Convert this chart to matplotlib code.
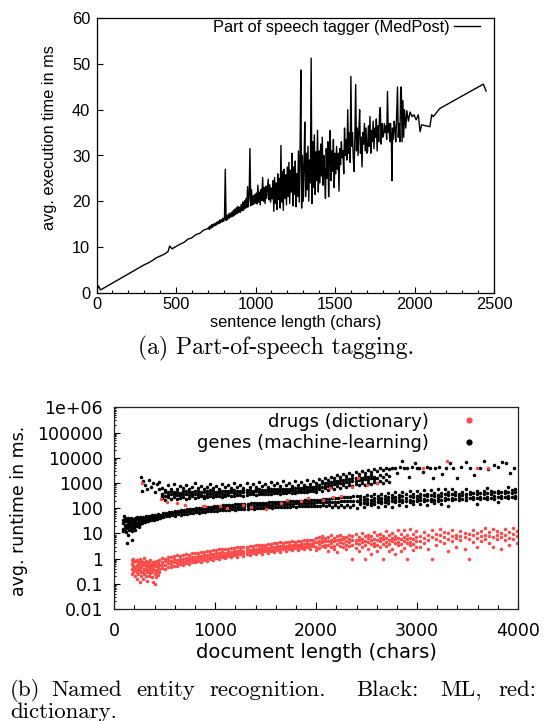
import matplotlib
matplotlib.use("Agg")
import matplotlib.pyplot as plt
from matplotlib.ticker import MultipleLocator, FixedLocator, NullFormatter
from matplotlib.lines import Line2D

# ---------------- (a) Part-of-speech tagging ----------------
pos_label = "Part of speech tagger (MedPost)"
pos_x1 = [0, 12, 25, 50, 75, 100, 125, 150, 175, 200, 225, 250, 275, 300, 325, 350,
          375, 400, 425, 450, 460, 475, 500, 525, 550, 575, 600, 625, 650, 675, 700]
pos_y1 = [0.2, 1.5, 0.6, 1.1, 1.6, 2.1, 2.6, 3.1, 3.6, 4.1, 4.6, 5.1, 5.6, 6.1, 6.5, 7.0,
          7.6, 8.0, 8.4, 9.0, 10.2, 9.6, 10.1, 10.6, 11.0, 11.7, 12.0, 12.7, 13.0, 13.7, 14.0]
pos_x2 = [705, 710, 715, 720, 725, 730, 735, 740, 745, 750, 755, 760, 765, 770, 775, 780, 785, 790, 795, 800,
          805, 810, 815, 820, 825, 830, 835, 840, 845, 850, 855, 860, 865, 870, 875, 880, 885, 890, 895, 900,
          905, 910, 915, 920, 925, 930, 935, 940, 945, 950, 955, 960, 965, 970, 975, 980, 985, 990, 995, 1000,
          1005, 1010, 1015, 1020, 1025, 1030, 1035, 1040, 1045, 1050, 1055, 1060, 1065, 1070, 1075, 1080, 1085, 1090, 1095, 1100,
          1105, 1110, 1115, 1120, 1125, 1130, 1135, 1140, 1145, 1150, 1155, 1160, 1165, 1170, 1175, 1180, 1185, 1190, 1195, 1200,
          1205, 1210, 1215, 1220, 1225, 1230, 1235, 1240, 1245, 1250, 1255, 1260, 1265, 1270, 1275, 1280, 1285, 1290, 1295, 1300,
          1305, 1310, 1315, 1320, 1325, 1330, 1335, 1340, 1345, 1350, 1355, 1360, 1365, 1370, 1375, 1380, 1385, 1390, 1395, 1400,
          1405, 1410, 1415, 1420, 1425, 1430, 1435, 1440, 1445, 1450, 1455, 1460, 1465, 1470, 1475, 1480, 1485, 1490, 1495, 1500,
          1505, 1510, 1515, 1520, 1525, 1530, 1535, 1540, 1545, 1550, 1555, 1560, 1565, 1570, 1575, 1580, 1585, 1590, 1595, 1600,
          1605, 1610, 1615, 1620, 1625, 1630, 1635, 1640, 1645, 1650, 1655, 1660, 1665, 1670, 1675, 1680, 1685, 1690, 1695, 1700,
          1705, 1710, 1715, 1720, 1725, 1730, 1735, 1740, 1745, 1750, 1755, 1760, 1765, 1770, 1775, 1780, 1785, 1790, 1795, 1800]
pos_y2 = [14.3, 13.8, 14.6, 14.1, 14.9, 14.3, 15.0, 14.6, 15.2, 14.7, 15.4, 15.0, 15.6, 15.1, 15.9, 15.3, 16.0, 15.5, 16.3, 15.6,
          16.4, 27.0, 15.8, 16.9, 16.0, 17.2, 16.3, 17.4, 16.5, 17.6, 16.7, 18.0, 16.8, 18.3, 17.1, 18.6, 17.3, 18.9, 17.5, 18.7,
          17.6, 19.3, 17.9, 19.8, 18.0, 20.1, 18.4, 20.6, 18.6, 23.2, 18.8, 21.0, 31.5, 19.0, 22.5, 19.2, 21.2, 19.3, 21.5, 19.6,
          21.8, 19.4, 23.5, 19.8, 22.0, 19.2, 22.6, 20.2, 25.2, 20.0, 23.0, 19.5, 23.3, 20.6, 22.8, 24.8, 20.3, 23.6, 19.8, 22.9,
          20.5, 24.5, 17.8, 25.2, 19.5, 24.0, 18.2, 26.0, 20.4, 25.0, 18.5, 32.2, 19.8, 26.5, 18.0, 27.0, 20.6, 25.8, 19.2, 27.5,
          21.0, 28.5, 19.5, 26.8, 22.0, 30.5, 19.0, 27.5, 21.5, 28.8, 18.8, 26.0, 21.0, 31.0, 19.8, 29.5, 48.7, 18.5, 30.0, 20.0,
          27.5, 37.3, 21.0, 30.5, 22.5, 32.0, 20.0, 29.0, 24.0, 51.3, 19.5, 33.0, 23.0, 34.5, 21.5, 30.8, 24.5, 35.5, 22.0, 31.0,
          24.0, 32.5, 25.5, 34.0, 23.5, 30.0, 26.0, 20.6, 31.5, 25.0, 33.0, 21.0, 29.5, 35.5, 24.5, 31.0, 26.5, 33.5, 23.0, 30.5,
          26.0, 32.0, 27.0, 30.5, 22.2, 31.5, 28.0, 33.0, 29.5, 31.0, 26.0, 36.0, 30.0, 33.5, 29.0, 40.0, 30.5, 35.0, 28.5, 47.3,
          32.0, 35.0, 29.5, 26.5, 34.0, 45.5, 31.0, 36.0, 30.0, 35.5, 40.0, 30.5, 34.0, 27.5, 35.0, 32.5, 37.0, 31.0, 36.0, 30.5,
          31.0, 36.5, 32.0, 38.5, 30.5, 35.5, 33.0, 37.5, 31.5, 36.0, 34.0, 38.0, 31.0, 36.5, 33.0, 39.0, 40.5, 32.5, 37.0, 34.0]
pos_x3 = [1805, 1810, 1815, 1820, 1825, 1830, 1835, 1840, 1845, 1850, 1855, 1858, 1862, 1867, 1872, 1877,
          1882, 1887, 1893, 1898, 1903, 1908, 1913, 1917, 1922, 1927, 1932, 1937, 1945, 1952, 1962, 1972,
          1985, 1997, 2010, 2024, 2035, 2045, 2097, 2108, 2118, 2160, 2433, 2450]
pos_y3 = [34.5, 37.0, 35.0, 36.5, 33.5, 44.0, 35.0, 37.0, 33.0, 37.0, 32.5, 24.5, 36.0, 33.5, 37.5, 36.0,
          33.0, 38.0, 45.0, 34.0, 37.0, 33.0, 44.5, 45.0, 33.0, 42.0, 34.0, 40.0, 36.0, 39.8, 37.5, 39.5,
          38.5, 38.9, 37.8, 38.9, 35.2, 36.7, 36.3, 38.9, 38.5, 40.3, 45.6, 44.1]
pos_xticks = [0, 500, 1000, 1500, 2000, 2500]
pos_yticks = [0, 10, 20, 30, 40, 50, 60]

# ---------------- (b) Named entity recognition ----------------
ner_labels = ["drugs (dictionary)", "genes (machine-learning)"]
ner_xticks = [0, 1000, 2000, 3000, 4000]
ner_yticks = [0.01, 0.1, 1, 10, 100, 1000, 10000, 100000, 1000000]
ner_yticklabels = ["0.01", "0.1", "1", "10", "100", "1000", "10000", "100000", "1e+06"]

drugs_x = [175, 190, 205, 220, 235, 250, 265, 280, 295, 310, 325, 340, 355, 370, 385, 400, 415, 430, 445,
           470, 500, 530, 560, 590, 620, 650, 680, 710, 740, 770, 800, 830, 860, 890, 920, 950, 980,
           1010, 1040, 1070, 1100, 1130, 1160, 1190, 1220, 1250, 1280, 1310, 1340, 1370, 1400, 1430, 1460,
           1490, 1520, 1550, 1580, 1610, 1640, 1670, 1700, 1730, 1760, 1790, 1820, 1850, 1880, 1910, 1940, 1970,
           2000, 2030, 2060, 2090, 2120, 2150, 2180, 2210, 2240, 2270, 2300, 2330, 2360, 2390, 2420, 2450,
           2480, 2510, 2540, 2570, 2600, 2630, 2660, 2690, 2720, 2750, 2780, 2810, 2840, 2870, 2900, 2930, 2960, 2990,
           3030, 3070, 3110, 3150, 3190, 3230, 3270, 3310, 3350, 3390, 3430, 3470, 3510, 3550, 3590, 3630,
           3670, 3710, 3750, 3790, 3830, 3870, 3910, 3950, 3990]
drugs_y = [[0.4, 0.9, 0.25, 0.6], [0.3, 0.7, 0.5, 1.0], [0.2, 0.45, 0.8, 0.35], [0.55, 0.15, 0.3, 0.9],
           [0.4, 0.25, 0.7, 0.5], [0.12, 0.6, 0.35, 1.0], [0.45, 0.2, 0.8, 0.3], [0.3, 0.55, 0.15, 0.7],
           [0.6, 0.25, 0.4, 1.1], [0.2, 0.5, 0.35, 0.8], [0.45, 0.13, 0.65, 0.3], [0.35, 0.7, 0.2, 0.5],
           [0.55, 0.28, 0.9, 0.4], [0.18, 0.45, 0.6, 0.3], [0.4, 0.12, 0.75, 0.5], [0.25, 0.6, 0.35, 0.1],
           [0.5, 0.3, 0.8, 0.18], [0.35, 0.65, 0.45, 0.22], [0.55, 0.4, 0.9, 0.3],
           [0.42, 0.72, 1.05, 0.58], [0.55, 0.78, 0.98, 0.4], [0.48, 0.85, 1.2, 0.65], [0.6, 0.8, 1.15, 0.45],
           [0.52, 0.92, 1.28, 0.7], [0.66, 0.88, 1.35, 0.5], [0.6, 1.0, 1.3, 0.78], [0.72, 0.95, 1.45, 0.58],
           [0.65, 1.08, 1.5, 0.85], [0.8, 1.05, 1.42, 0.62], [0.74, 1.2, 1.62, 0.95], [0.88, 1.15, 1.7, 0.7],
           [0.82, 1.3, 1.6, 1.05], [0.95, 1.25, 1.85, 0.75], [0.9, 1.42, 1.78, 1.12], [1.05, 1.38, 2.0, 0.82],
           [0.98, 1.52, 1.95, 1.2], [1.12, 1.5, 2.15, 0.9],
           [1.08, 1.65, 2.1, 1.32], [1.22, 1.6, 2.35, 0.95], [1.15, 1.78, 2.3, 1.42], [1.32, 1.72, 2.5, 1.05],
           [1.25, 1.9, 2.45, 1.55], [1.45, 1.85, 2.65, 1.12], [1.38, 2.02, 2.6, 1.65], [1.55, 1.95, 2.82, 1.2],
           [1.48, 2.15, 2.78, 1.78], [1.66, 2.08, 3.0, 1.3], [1.58, 2.3, 2.95, 1.9], [1.78, 2.22, 3.2, 1.38],
           [1.68, 2.45, 3.15, 2.02], [1.9, 2.38, 3.4, 1.48], [1.8, 2.6, 3.35, 2.15], [2.02, 2.52, 3.6, 1.58],
           [1.92, 2.78, 3.55, 2.3], [2.15, 2.68, 3.85, 1.68], [2.05, 2.95, 3.8, 2.45], [2.28, 2.85, 4.1, 1.78],
           [2.18, 3.12, 4.0, 2.6], [2.42, 3.02, 4.35, 1.9], [2.3, 3.3, 4.25, 2.75], [2.55, 3.2, 4.6, 2.0],
           [2.45, 3.48, 4.5, 2.9], [2.7, 3.38, 4.85, 2.1], [2.58, 3.65, 4.75, 3.05], [2.85, 3.55, 5.1, 2.2],
           [2.72, 3.82, 5.0, 3.2], [3.0, 3.72, 5.35, 2.3], [2.88, 4.0, 5.25, 3.35], [3.15, 3.9, 5.6, 2.4],
           [3.02, 4.18, 5.5, 3.5],
           [3.0, 4.6, 6.5, 2.2], [3.8, 5.2, 7.0, 2.6], [3.2, 4.4, 6.0, 8.0], [2.8, 4.9, 6.8, 3.6],
           [3.5, 5.0, 7.5, 2.0], [4.0, 5.5, 3.0, 8.5], [3.3, 4.8, 6.6, 2.5], [3.9, 5.6, 7.8, 1.9],
           [3.1, 4.5, 6.2, 9.0], [4.2, 5.8, 2.8, 7.2], [3.6, 5.1, 6.9, 2.3], [4.5, 6.0, 3.2, 8.8],
           [3.4, 5.3, 7.6, 1.0], [4.1, 5.7, 2.6, 9.5], [3.7, 5.5, 7.3, 2.0], [4.4, 6.2, 3.0, 10.5],
           [3.5, 5.0, 8.0, 1.0], [4.6, 6.4, 2.4, 9.0], [3.8, 5.6, 7.7, 1.5], [4.3, 6.1, 3.1, 11.0],
           [3.6, 5.4, 8.4, 2.0], [4.8, 6.6, 2.8, 9.8], [3.9, 5.9, 7.9, 1.0], [4.5, 6.3, 3.3, 12.0],
           [3.7, 5.7, 8.8, 2.0], [4.9, 6.8, 2.5, 10.0], [4.0, 6.0, 8.2, 1.5], [4.6, 6.5, 3.4, 13.0],
           [3.8, 5.8, 9.2, 2.0], [5.0, 7.0, 2.7, 14.0], [4.2, 6.2, 8.6, 1.0], [4.7, 6.7, 3.5, 15.0],
           [3.9, 6.0, 9.5, 2.2], [5.1, 7.2, 2.9, 12.0],
           [5.0, 8.0, 3.0], [6.5, 11.0, 4.0], [5.5, 9.0, 2.5], [7.0, 13.0, 1.0], [6.0, 9.5, 3.5],
           [5.2, 8.5, 15.0], [7.5, 11.5, 4.0], [6.2, 10.0, 2.0], [8.0, 14.0, 5.0], [6.8, 9.0, 3.0],
           [5.5, 12.0, 8.0], [7.2, 10.5, 2.5], [6.0, 9.5, 1.0], [8.5, 13.5, 4.5], [6.5, 10.0, 3.0],
           [7.8, 12.5, 5.0], [6.0, 9.0, 16.0], [8.2, 11.0, 4.0], [7.0, 14.5, 3.0], [9.0, 6.0, 12.0],
           [7.5, 10.5, 2.5], [8.8, 15.5, 5.5], [6.8, 11.5, 3.5], [9.5, 17.0, 6.0], [8.0, 12.0, 4.0]]
drugs_out_x = [271, 460, 520, 625, 700, 880, 899, 1050, 1114, 1279, 1350, 1500, 1650, 1709, 1850,
               1923, 2071, 2138, 2170, 2250, 2353, 2419, 2500, 2601, 3063, 3294, 3592, 3707]
drugs_out_y = [1000, 224, 180, 155, 130, 120, 123, 120, 100, 130, 110, 95, 160, 210, 190,
               245, 210, 630, 280, 300, 680, 1540, 800, 980, 3800, 7100, 3800, 3800]

genes_low_x = [90, 105, 120, 135, 150, 165, 180, 195, 210, 225, 240, 255, 270, 285, 300, 315, 330, 345,
               360, 375, 390, 405, 420, 435, 450,
               480, 510, 540, 570, 600, 630, 660, 690, 720, 750, 780, 810, 840, 870, 900, 930, 960, 990,
               1020, 1050, 1080, 1110, 1140, 1170, 1200, 1230, 1260, 1290, 1320, 1350, 1380, 1410, 1440,
               1470, 1500, 1530, 1560, 1590, 1620, 1650, 1680, 1710, 1740, 1770, 1800, 1830, 1860, 1890,
               1920, 1950, 1980, 2010, 2040, 2070, 2100, 2130, 2160, 2190, 2220, 2250, 2280, 2310, 2340,
               2370, 2400,
               2435, 2470, 2505, 2540, 2575, 2610, 2645, 2680, 2715, 2750, 2785, 2820, 2855, 2890, 2925,
               2960, 2995, 3030, 3065, 3100, 3135, 3170, 3205, 3240, 3275, 3310, 3345, 3380, 3415, 3450,
               3485, 3520, 3555, 3590, 3625, 3660, 3695, 3730, 3765, 3800, 3835, 3870, 3905, 3940, 3975]
genes_low_y = [[15, 25, 12, 35], [20, 30, 14, 40], [11, 22, 35, 18], [16, 28, 40, 9], [13, 24, 33, 19],
               [22, 30, 15, 42], [18, 26, 12, 36], [25, 35, 20, 16], [21, 30, 40, 14], [26, 36, 19, 45],
               [24, 32, 28, 18], [28, 38, 23, 46], [30, 40, 25, 34], [27, 36, 44, 32], [33, 42, 29, 38],
               [31, 40, 48, 35], [35, 44, 30, 39], [34, 42, 50, 38], [37, 46, 33, 41], [36, 44, 52, 40],
               [39, 48, 35, 43], [38, 46, 55, 42], [41, 50, 37, 45], [40, 48, 57, 44], [43, 52, 39, 47],
               [44, 54, 63], [49, 57, 66], [47, 60, 70], [53, 62, 72], [51, 65, 76], [57, 67, 79],
               [55, 70, 83], [61, 72, 86], [59, 75, 90], [65, 78, 92], [63, 81, 96], [69, 83, 99],
               [67, 86, 103], [72, 88, 106], [70, 91, 110], [76, 93, 112], [74, 96, 116], [79, 98, 119],
               [77, 101, 122], [83, 103, 125], [81, 106, 128], [86, 108, 131], [84, 111, 134], [89, 112, 137],
               [87, 115, 140], [92, 116, 142], [90, 119, 145], [95, 120, 148], [93, 123, 150], [98, 124, 153],
               [96, 127, 156], [101, 128, 158], [99, 131, 161], [104, 132, 164], [102, 135, 166], [107, 136, 169],
               [105, 139, 172], [110, 140, 174], [108, 143, 177], [113, 144, 180], [111, 147, 182], [116, 148, 185],
               [114, 151, 188], [118, 152, 190], [116, 155, 193], [120, 156, 196], [118, 159, 199], [122, 160, 202],
               [120, 163, 205], [124, 164, 208], [122, 166, 212], [126, 168, 215], [120, 170, 220], [128, 172, 225],
               [118, 175, 232], [130, 176, 238], [115, 178, 245], [132, 180, 250], [112, 182, 258], [134, 184, 265],
               [110, 186, 272], [136, 188, 280], [108, 190, 288], [138, 192, 296], [105, 194, 305],
               [170, 230, 140, 300], [160, 210, 280, 110], [180, 240, 150, 330], [165, 220, 290, 130],
               [190, 250, 145, 350], [175, 230, 300, 115], [200, 260, 160, 380], [180, 240, 310, 125],
               [205, 270, 165, 400], [185, 250, 320, 110], [210, 280, 170, 420], [190, 255, 340, 130],
               [215, 290, 175, 450], [195, 260, 350, 120], [220, 300, 180, 480], [200, 270, 360, 140],
               [225, 310, 185, 500], [205, 280, 370, 150], [230, 320, 190, 520], [210, 290, 380, 130],
               [240, 330, 195, 540], [215, 300, 400, 160], [245, 340, 200, 560], [220, 310, 410, 140],
               [250, 350, 205, 580], [230, 320, 420, 120], [260, 360, 210, 600], [235, 330, 430],
               [265, 370, 215], [240, 340, 440], [270, 380, 220, 560], [245, 350, 450], [275, 390, 225],
               [250, 360, 460, 140], [280, 400, 230], [255, 370, 470], [285, 410, 235, 650], [260, 380, 480],
               [290, 420, 240], [265, 390, 490, 180], [295, 430, 245], [270, 400, 500], [300, 440, 250, 720],
               [275, 410, 510], [305, 450, 255, 600]]

genes_up_x = [470, 500, 530, 560, 590, 620, 650, 680, 710, 740, 770, 800, 830, 860, 890, 920, 950, 980,
              1010, 1040, 1070, 1100, 1130, 1160, 1190, 1220, 1250, 1280, 1310, 1340, 1370, 1400, 1430,
              1460, 1490, 1520, 1550, 1580, 1610, 1640, 1670, 1700, 1730, 1760, 1790, 1820, 1850, 1880,
              1910, 1940, 1970, 2000,
              2030, 2060, 2090, 2120, 2150, 2180, 2210, 2240, 2270, 2300, 2330, 2360, 2390, 2420, 2450,
              2480, 2510, 2540, 2570, 2600, 2630, 2660, 2690, 2720]
genes_up_y = [[250, 380, 650, 310], [300, 520, 220, 420], [270, 420, 800, 340], [350, 240, 600, 460],
              [280, 450, 900, 360], [320, 230, 550, 420], [260, 400, 750, 330], [380, 280, 620, 480],
              [240, 460, 850, 350], [330, 260, 580, 440], [290, 420, 700, 350], [360, 250, 950, 500],
              [270, 480, 640, 380], [340, 300, 780, 430], [310, 450, 260, 600], [380, 280, 700, 470],
              [300, 520, 880, 400], [350, 270, 640, 480], [290, 440, 760, 360], [400, 310, 600, 500],
              [280, 500, 900, 380], [360, 300, 680, 470], [320, 470, 820, 390], [420, 290, 620, 520],
              [310, 520, 980, 410], [380, 330, 700, 500], [340, 480, 850, 420], [440, 310, 650, 540],
              [330, 540, 1000, 420], [400, 350, 720, 520], [360, 500, 880, 440], [460, 330, 680, 560],
              [350, 560, 1050, 440], [420, 370, 760, 540], [380, 520, 900, 460], [480, 350, 700, 580],
              [370, 580, 1100, 460], [440, 390, 800, 560], [400, 550, 950, 480], [500, 370, 740, 600],
              [390, 600, 1150, 480], [460, 410, 820, 600], [420, 580, 1000, 500], [530, 390, 780, 640],
              [410, 630, 1200, 500], [490, 440, 860, 650], [450, 620, 1050, 540], [560, 420, 820, 700],
              [440, 680, 1300, 540], [520, 470, 900, 720], [480, 660, 1150, 580], [600, 450, 1000, 780],
              [550, 800, 1400, 650], [700, 480, 1200, 950], [620, 950, 1600, 750], [520, 780, 1300, 1000],
              [680, 1100, 1800, 850], [600, 900, 1500, 1150], [750, 1200, 2000, 950], [650, 1000, 1700, 1300],
              [800, 1300, 2200, 1000], [700, 1100, 1900, 1450], [850, 1400, 2500, 1100], [750, 1200, 2100, 1600],
              [900, 1500, 2700, 1200], [800, 1300, 2300, 1750], [950, 1600, 3000, 1250], [850, 1400, 2500, 1900],
              [1000, 1700, 3200, 1300], [900, 1500, 2800, 2000], [1100, 1800, 3500, 1400], [950, 1600, 3000],
              [1200, 2000, 3800], [1000, 1700, 3200], [1300, 2200, 4000], [1100, 1900, 3500]]
genes_out_x = [95, 130, 180, 260, 270, 280, 300, 320, 340, 360, 380, 400, 420, 440, 445,
               2750, 2780, 2800, 2830, 2850, 2870, 2900, 2920, 2950, 2980, 3000, 3020, 3060, 3100,
               3130, 3160, 3180, 3220, 3250, 3290, 3330, 3360, 3400, 3440, 3480, 3520, 3560, 3620,
               3660, 3700, 3760, 3800, 3840, 3880, 3920, 3960]
genes_out_y = [50, 4, 5.5, 1800, 500, 1200, 800, 600, 1300, 700, 1000, 450, 900, 1100, 600,
               4000, 3800, 2500, 4200, 7500, 4000, 3900, 1800, 4100, 6000, 3800, 4000, 2800, 4200,
               3900, 1600, 4000, 4100, 2200, 3800, 6000, 4000, 1500, 4200, 6500, 3900, 2000, 4000,
               7500, 3500, 5000, 4200, 7000, 6000, 2500, 4000]

RED = "#ff4a4a"


def flatten(xs, ys):
    fx, fy = [], []
    for x, col in zip(xs, ys):
        for y in col:
            fx.append(x)
            fy.append(y)
    return fx, fy


fig = plt.figure(figsize=(5.44, 7.21), dpi=100)

# ---------------- top axes ----------------
TOPFONT = "Liberation Sans"
ax1 = fig.add_axes([96.5 / 544, 1 - 292.7 / 721, (494 - 96.5) / 544, (292.7 - 18.3) / 721])
ax1.plot(pos_x1 + pos_x2 + pos_x3, pos_y1 + pos_y2 + pos_y3, color="black", lw=1.0, label=pos_label)
ax1.set_xlim(0, 2500)
ax1.set_ylim(0, 60)
ax1.xaxis.set_major_locator(FixedLocator(pos_xticks))
ax1.xaxis.set_minor_locator(MultipleLocator(100))
ax1.yaxis.set_major_locator(FixedLocator(pos_yticks))
ax1.tick_params(axis="both", which="both", direction="in", top=False, right=False, width=0.8)
ax1.tick_params(axis="x", which="major", length=4, pad=3)
ax1.tick_params(axis="x", which="minor", length=2.5)
ax1.tick_params(axis="y", which="major", length=4, pad=4.5)
for lab in ax1.get_xticklabels() + ax1.get_yticklabels():
    lab.set_fontfamily(TOPFONT)
    lab.set_fontsize(11.8)
for sp in ax1.spines.values():
    sp.set_linewidth(0.9)
ax1.set_xlabel("sentence length (chars)", fontfamily=TOPFONT, fontsize=11.8, va="center")
ax1.set_ylabel("avg. execution time in ms", fontfamily=TOPFONT, fontsize=11.8, va="center")
ax1.xaxis.set_label_coords(0.5, -0.107)
ax1.yaxis.set_label_coords(-0.117, 0.566)
ax1.legend(loc="upper right", bbox_to_anchor=(0.970, 1.0), frameon=False, markerfirst=False,
           handlelength=1.6, handletextpad=0.25, borderaxespad=0, borderpad=0.1,
           prop={"family": TOPFONT, "size": 11.8})

fig.text(276 / 544, 1 - 348 / 721, "(a) Part-of-speech tagging.", fontfamily="cmr10",
         fontsize=17, ha="center", va="center")

# ---------------- bottom axes ----------------
BOTFONT = "DejaVu Sans"
ax2 = fig.add_axes([114.3 / 544, 1 - 609 / 721, (518 - 114.3) / 544, (609 - 407.3) / 721])
gx, gy = flatten(genes_low_x, genes_low_y)
ux, uy = flatten(genes_up_x, genes_up_y)
dx, dy = flatten(drugs_x, drugs_y)
ax2.scatter(gx + ux + genes_out_x, gy + uy + genes_out_y, s=6.5, color="black", linewidths=0)
ax2.scatter(dx + drugs_out_x, dy + drugs_out_y, s=6.5, color=RED, linewidths=0)
ax2.set_yscale("log")
ax2.set_xlim(0, 4000)
ax2.set_ylim(0.01, 1e6)
ax2.xaxis.set_major_locator(FixedLocator(ner_xticks))
ax2.xaxis.set_minor_locator(MultipleLocator(200))
ax2.yaxis.set_major_locator(FixedLocator(ner_yticks))
ax2.set_yticklabels(ner_yticklabels)
ax2.yaxis.set_minor_formatter(NullFormatter())
ax2.tick_params(axis="both", which="both", direction="in", top=False, right=False, width=0.8)
ax2.tick_params(axis="x", which="major", length=5, pad=9)
ax2.tick_params(axis="x", which="minor", length=3)
ax2.tick_params(axis="y", which="major", length=4, pad=8)
ax2.tick_params(axis="y", which="minor", length=1.5)
for lab in ax2.get_xticklabels() + ax2.get_yticklabels():
    lab.set_fontfamily(BOTFONT)
    lab.set_fontsize(12.5)
for sp in ax2.spines.values():
    sp.set_linewidth(0.9)
    sp.set_color("#222222")
ax2.set_xlabel("document length (chars)", fontfamily=BOTFONT, fontsize=14, va="center")
ax2.set_ylabel("avg. runtime in ms.", fontfamily=BOTFONT, fontsize=12.5, va="center")
ax2.xaxis.set_label_coords(0.5, -0.218)
ax2.yaxis.set_label_coords(-0.236, 0.487)
handles = [Line2D([], [], ls="none", marker="o", ms=4.5, color=RED, mec="none"),
           Line2D([], [], ls="none", marker="o", ms=4.5, color="black", mec="none")]
ax2.legend(handles, ner_labels, loc="upper right", bbox_to_anchor=(0.923, 0.973), frameon=False,
           markerfirst=False, handlelength=2.0, handletextpad=1.2, borderaxespad=0, borderpad=0,
           labelspacing=0.2, prop={"family": BOTFONT, "size": 13})

cap_words = ["(b)", "Named", "entity", "recognition.", "Black:", "ML,", "red:"]
cap_pos = [10, 51, 136, 209, 356, 440, 498]
for w, xp in zip(cap_words, cap_pos):
    fig.text(xp / 544, 1 - 690 / 721, w, fontfamily="cmr10", fontsize=16.5, ha="left", va="center")
fig.text(10 / 544, 1 - 712 / 721, "dictionary.", fontfamily="cmr10", fontsize=16.5, ha="left", va="center")

fig.savefig("out.png", dpi=100)
